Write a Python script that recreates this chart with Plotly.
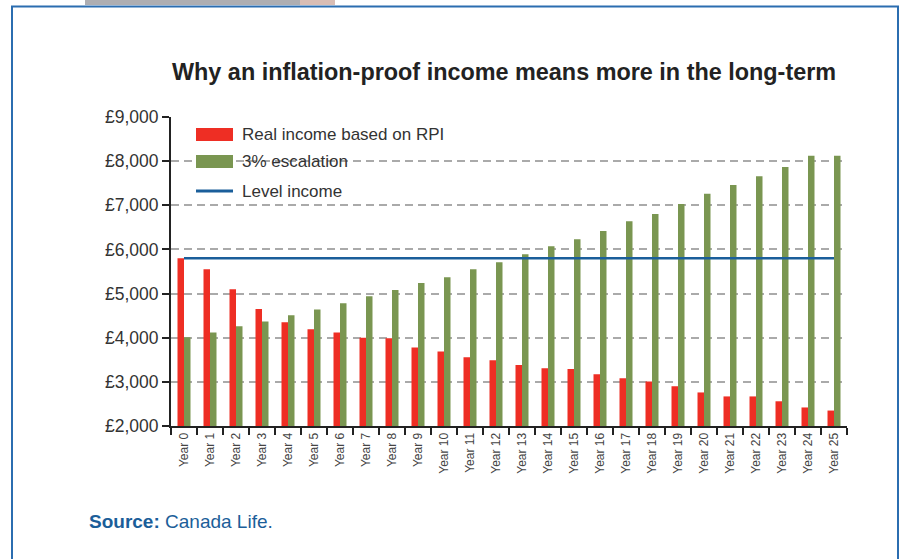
import plotly.graph_objects as go

# Data
years = [f"Year {i}" for i in range(26)]
real_income_rpi = [5800, 5550, 5100, 4650, 4350, 4190, 4120, 4000, 3990, 3780,
                   3690, 3560, 3490, 3380, 3310, 3290, 3170, 3080, 3010, 2900,
                   2760, 2670, 2670, 2560, 2420, 2350]
escalation_3pc = [4010, 4120, 4260, 4370, 4510, 4640, 4780, 4940, 5080, 5240,
                  5370, 5550, 5710, 5890, 6070, 6230, 6420, 6640, 6800, 7030,
                  7260, 7460, 7660, 7870, 8120, 8120]
level_income = [5800] * 26
y_ticks = [2000, 3000, 4000, 5000, 6000, 7000, 8000, 9000]
y_ticktext = [f"£{v:,}" for v in y_ticks]

RED = "#EE2E24"
GREEN = "#7A9651"
BLUE = "#1A5E9A"
FONT = "Liberation Sans, Arial, sans-serif"

W, H = 906, 559
L, R, T, B = 171, 847, 117, 426  # plot area in pixels


def px(x, y):
    """pixel position -> paper coords"""
    return (x - L) / (R - L), (B - y) / (B - T)


fig = go.Figure()
fig.add_trace(go.Bar(x=years, y=real_income_rpi, name="Real income based on RPI",
                     marker=dict(color=RED, line=dict(width=0))))
fig.add_trace(go.Bar(x=years, y=escalation_3pc, name="3% escalation",
                     marker=dict(color=GREEN, line=dict(width=0))))
fig.add_trace(go.Scatter(x=years, y=level_income, name="Level income", mode="lines",
                         line=dict(color=BLUE, width=2.5)))

shapes = []
annotations = []

# strip of photo above the panel
for a, b, c in [(85, 300, "#AEAEB2"), (300, 335, "#D9BDB4")]:
    xa, ya = px(a, 0)
    xb, yb = px(b, 5)
    shapes.append(dict(type="rect", xref="paper", yref="paper", x0=xa, x1=xb, y0=yb, y1=ya,
                       line=dict(width=0), fillcolor=c, layer="below"))
# frame around the panel
x0, y0 = px(12, 6.5)
x1, y1 = px(898, 575)
shapes.append(dict(type="rect", xref="paper", yref="paper", x0=x0, y0=y1, x1=x1, y1=y0,
                   line=dict(color="#2B6DB0", width=2), fillcolor="rgba(0,0,0,0)", layer="above"))

# hand-made legend (wide swatches like the original)
legend_items = [("Real income based on RPI", RED, "bar", 134.5),
                ("3% escalation", GREEN, "bar", 161.5),
                ("Level income", BLUE, "line", 191)]
for label, color, kind, yc in legend_items:
    xa, _ = px(196, 0)
    xb, _ = px(233, 0)
    if kind == "bar":
        _, ya = px(0, yc - 6.5)
        _, yb = px(0, yc + 6.5)
        shapes.append(dict(type="rect", xref="paper", yref="paper", x0=xa, x1=xb, y0=yb, y1=ya,
                           line=dict(width=0), fillcolor=color))
    else:
        _, ym = px(0, yc)
        shapes.append(dict(type="line", xref="paper", yref="paper", x0=xa, x1=xb, y0=ym, y1=ym,
                           line=dict(color=color, width=3)))
    xt, yt = px(240, yc)
    annotations.append(dict(text=label, xref="paper", yref="paper", x=xt, y=yt,
                            xanchor="left", yanchor="middle", showarrow=False,
                            font=dict(family=FONT, size=17, color="#333333")))

# title
xt, yt = px(504, 72)
annotations.append(dict(text="<b>Why an inflation-proof income means more in the long-term</b>",
                        xref="paper", yref="paper", x=xt, y=yt, xanchor="center", yanchor="middle",
                        showarrow=False, font=dict(family=FONT, size=23.4, color="#222222")))
# source
xs, ys = px(87, 521)
annotations.append(dict(text="<b>Source:</b> Canada Life.", xref="paper", yref="paper",
                        x=xs, y=ys, xanchor="left", yanchor="middle", showarrow=False,
                        font=dict(family=FONT, size=19, color="#1B5E99")))

fig.update_layout(
    width=W, height=H,
    margin=dict(l=L, r=W - R, t=T, b=H - B, autoexpand=False),
    paper_bgcolor="white", plot_bgcolor="white",
    barmode="group", bargap=0.5, bargroupgap=0,
    showlegend=False,
    shapes=shapes, annotations=annotations,
    font=dict(family=FONT, color="#333333"),
)
fig.update_xaxes(
    type="category", range=[-0.5, 25.5],
    showline=True, linecolor="#222222", linewidth=2,
    ticks="outside", tickson="boundaries", ticklen=7, tickwidth=1.5, tickcolor="#222222",
    tickangle=-90, tickfont=dict(family=FONT, size=12, color="#444444"),
    showgrid=False,
)
fig.update_yaxes(
    range=[2000, 9000], tickvals=y_ticks, ticktext=y_ticktext,
    showline=True, linecolor="#222222", linewidth=2,
    ticks="outside", ticklen=7, tickwidth=1.5, tickcolor="#222222",
    tickfont=dict(family=FONT, size=17.5, color="#333333"),
    showgrid=True, gridcolor="#AAAAAA", gridwidth=1.5, griddash="8px,5px",
    zeroline=False,
)

fig.write_html("out.html", config={"displayModeBar": False},
               post_script="document.body.style.margin='0';")
